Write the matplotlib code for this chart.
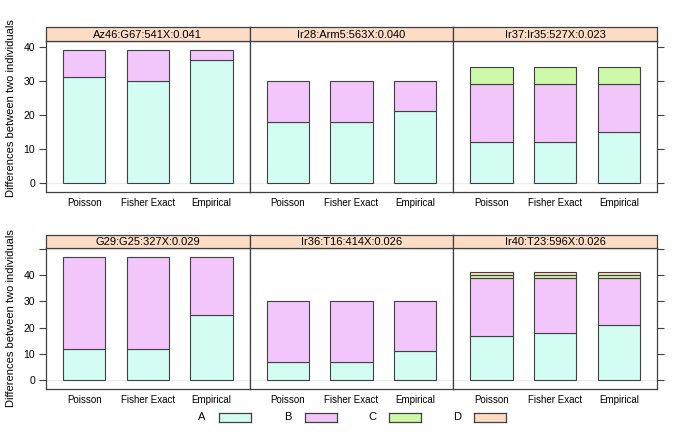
import numpy as np
import matplotlib
matplotlib.use("Agg")
import matplotlib.pyplot as plt

plt.rcParams['font.family'] = ['Liberation Sans', 'DejaVu Sans']

methods = ['Poisson', 'Fisher Exact', 'Empirical']
panels = ['Az46:G67:541X:0.041', 'Ir28:Arm5:563X:0.040', 'Ir37:Ir35:527X:0.023',
          'G29:G25:327X:0.029', 'Ir36:T16:414X:0.026', 'Ir40:T23:596X:0.026']
levels = ['A', 'B', 'C', 'D']

# counts per panel, per method (Poisson, Fisher Exact, Empirical)
A = [[31, 30, 36], [18, 18, 21], [12, 12, 15], [12, 12, 25], [7, 7, 11], [17, 18, 21]]
B = [[8, 9, 3], [12, 12, 9], [17, 17, 14], [35, 35, 22], [23, 23, 19], [22, 21, 18]]
C = [[0, 0, 0], [0, 0, 0], [5, 5, 5], [0, 0, 0], [0, 0, 0], [1, 1, 1]]
D = [[0, 0, 0], [0, 0, 0], [0, 0, 0], [0, 0, 0], [0, 0, 0], [1, 1, 1]]

colors = ['#d3fdf3', '#f3c6fb', '#cdf9a8', '#fcdcc2']
strip_col = '#fcdcc4'
edge = '#404040'

W, H = 685, 436
fig = plt.figure(figsize=(W / 100, H / 100), dpi=100)

def fx(px):
    return px / W

def fy(py):
    return 1 - py / H

left, right = 46, 657
pw = (right - left) / 3
rows = [(27, 41, 192), (235, 248, 389)]  # strip top, panel top, panel bottom

for i, name in enumerate(panels):
    r, c = divmod(i, 3)
    st, pt, pb = rows[r]
    x0 = left + c * pw
    ax = fig.add_axes([fx(x0), fy(pb), fx(pw), (pb - pt) / H])
    sax = fig.add_axes([fx(x0), fy(pt), fx(pw), (pt - st) / H])

    x = np.arange(1, 4)
    bottom = np.zeros(3)
    for k, ser in enumerate([A, B, C, D]):
        v = np.array(ser[i], dtype=float)
        if v.sum() > 0:
            ax.bar(x, v, width=0.667, bottom=bottom, color=colors[k],
                   edgecolor=edge, linewidth=0.8, zorder=3)
        bottom += v
    ax.axhline(0, color='#ececec', lw=0.8, zorder=1)
    ax.set_xlim(0.4, 3.6)
    if r == 0:
        ax.set_ylim(-2.73, 41.73)
        yt = [0, 10, 20, 30, 40]
    else:
        ax.set_ylim(-3.3, 50.3)
        yt = [0, 10, 20, 30, 40, 50]
    ax.set_xticks(x)
    ax.set_xticklabels(methods, fontsize=7)
    ax.tick_params(axis='x', length=0, pad=4)
    ax.set_yticks(yt)
    ax.tick_params(axis='y', length=5, width=0.8, color=edge, labelsize=7.5, pad=3)
    if c == 0:
        ax.set_yticklabels([str(t) if t <= 40 else '' for t in yt])
    elif c == 2:
        ax.yaxis.tick_right()
        ax.set_yticklabels([])
    else:
        ax.tick_params(axis='y', length=0, labelleft=False)
    for s in ax.spines.values():
        s.set_color(edge)
        s.set_linewidth(0.9)

    sax.set_facecolor(strip_col)
    sax.set_xticks([])
    sax.set_yticks([])
    for s in sax.spines.values():
        s.set_color(edge)
        s.set_linewidth(0.9)
    sax.text(0.5, 0.45, name, ha='center', va='center', fontsize=8,
             transform=sax.transAxes)

for yc in [108, 318]:
    fig.text(fx(11), fy(yc), 'Differences between two individuals', rotation=90,
             ha='center', va='center', fontsize=8)

# legend
lx = [202, 288, 372, 457]
for k, lab in enumerate(levels):
    fig.text(fx(lx[k]), fy(417), lab, ha='center', va='center', fontsize=8)
    bx = fig.add_axes([fx(lx[k] + 17), fy(422), fx(32), 9 / H])
    bx.set_facecolor(colors[k])
    bx.set_xticks([])
    bx.set_yticks([])
    for s in bx.spines.values():
        s.set_color(edge)
        s.set_linewidth(0.9)

fig.savefig('out.png', dpi=100)
